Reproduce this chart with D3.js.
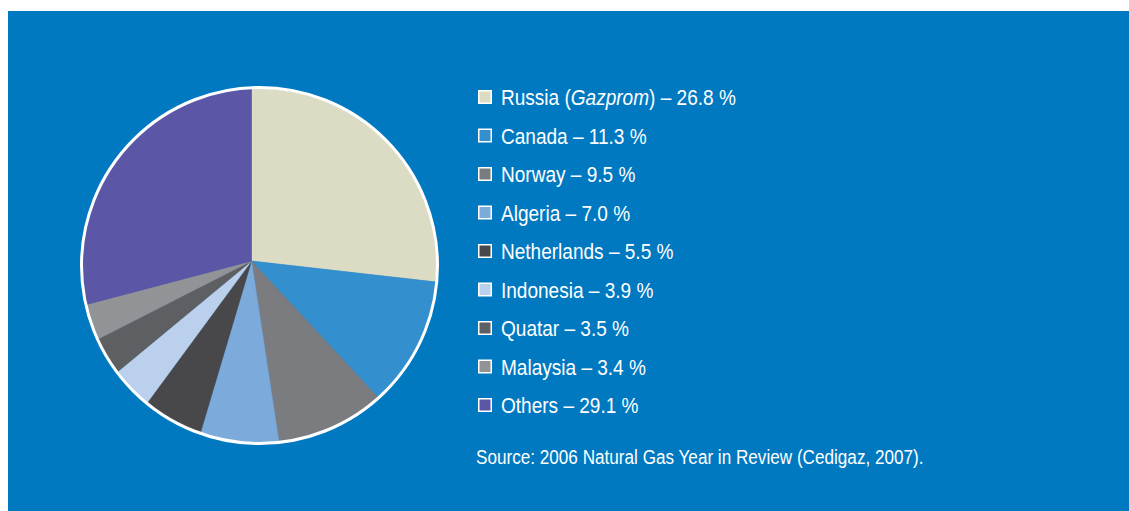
<!DOCTYPE html>
<html>
<head>
<meta charset="utf-8">
<script src="https://cdn.jsdelivr.net/npm/d3@7"></script>
<style>
  html, body { margin: 0; padding: 0; background: #fff; }
  svg { display: block; }
  text { font-family: "Liberation Sans Narrow", "Liberation Sans", Arial, sans-serif; fill: #fff; }
</style>
</head>
<body>
<svg id="chart" width="1129" height="511"></svg>
<script>
// producers and their share of world gas production (%)
const countries = ['Russia', 'Canada', 'Norway', 'Algeria', 'Netherlands', 'Indonesia', 'Quatar', 'Malaysia', 'Others'];
const shares = [26.8, 11.3, 9.5, 7.0, 5.5, 3.9, 3.5, 3.4, 29.1];
const colors = ['#dcdbc3', '#348fce', '#7b7c80', '#7baadb', '#48484a', '#bad0ed', '#5e5f62', '#929396', '#5b56a5'];
const sourceNote = 'Source: 2006 Natural Gas Year in Review (Cedigaz, 2007).';

const data = countries.map((c, i) => ({ name: c, value: shares[i], color: colors[i] }));

const svg = d3.select('#chart');

svg.append('rect')
  .attr('x', 8).attr('y', 11)
  .attr('width', 1121).attr('height', 500)
  .attr('fill', '#0079c1');

// the pie outline is a circle, the slices meet slightly off centre
const cx = 259.5, cy = 265.5, r = 177;
const apex = [251.5, 261];

svg.append('clipPath').attr('id', 'pie-clip')
  .append('circle').attr('cx', cx).attr('cy', cy).attr('r', r);

const pie = d3.pie().sort(null).value((d) => d.value);
const arc = d3.arc().innerRadius(0).outerRadius(220);

svg.append('g')
  .attr('clip-path', 'url(#pie-clip)')
  .append('g')
  .attr('transform', 'translate(' + apex[0] + ',' + apex[1] + ')')
  .selectAll('path')
  .data(pie(data))
  .join('path')
  .attr('d', arc)
  .attr('fill', (d) => d.data.color)
  .attr('stroke', (d) => d.data.color)
  .attr('stroke-width', 0.5);

svg.append('circle')
  .attr('cx', cx).attr('cy', cy).attr('r', r + 1)
  .attr('fill', 'none')
  .attr('stroke', '#fff')
  .attr('stroke-width', 3);

// legend
const legend = svg.append('g').attr('transform', 'translate(478,0)');
const rowY = d3.scaleLinear().domain([0, data.length - 1]).range([105, 413]);

const rows = legend.selectAll('g.row')
  .data(data)
  .join('g')
  .attr('class', 'row')
  .attr('transform', (d, i) => 'translate(0,' + rowY(i) + ')');

rows.append('rect')
  .attr('x', 0.75).attr('y', -14.25)
  .attr('width', 12.5).attr('height', 12.5)
  .attr('fill', (d) => d.color)
  .attr('stroke', '#fff')
  .attr('stroke-width', 1.5);

const labels = rows.append('text')
  .style('font-size', '22.5px');

labels.each(function (d) {
  const t = d3.select(this);
  if (d.name === 'Russia') {
    t.append('tspan').text('Russia (');
    t.append('tspan').style('font-style', 'italic').text('Gazprom');
    t.append('tspan').text(') \u2013 ' + d.value.toFixed(1) + ' %');
  } else {
    t.text(d.name + ' \u2013 ' + d.value.toFixed(1) + ' %');
  }
});

// squeeze the tall type to the width of the first row
const k = 235 / labels.node().getComputedTextLength();
labels.attr('transform', 'translate(23,0) scale(' + k + ',1)');

const src = svg.append('text')
  .style('font-size', '20px')
  .text(sourceNote);
const ks = 448 / src.node().getComputedTextLength();
src.attr('transform', 'translate(476,464) scale(' + ks + ',1)');
</script>
</body>
</html>
